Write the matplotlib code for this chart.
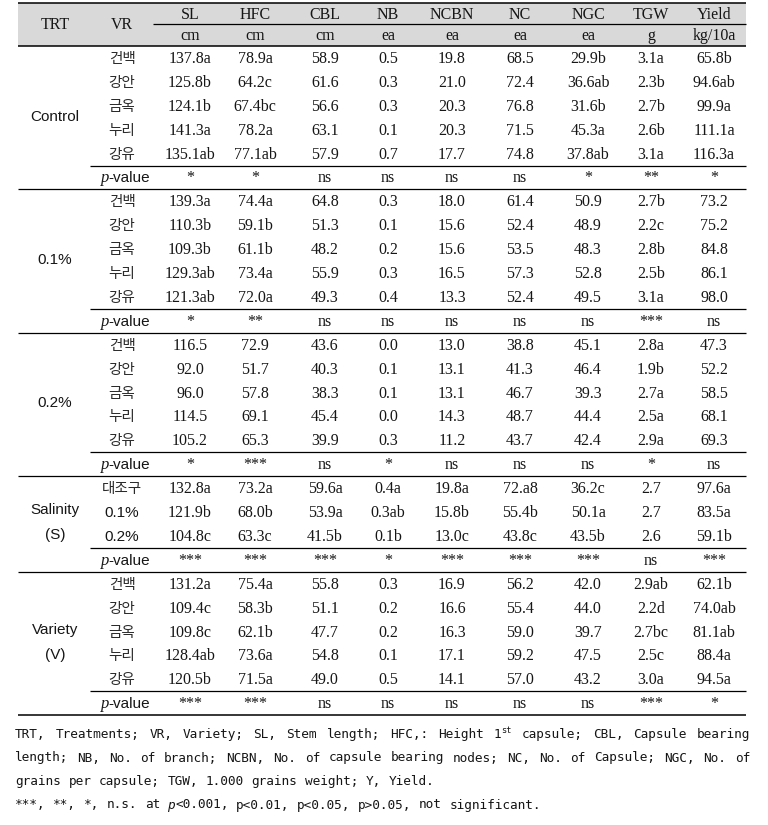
import re

import matplotlib

matplotlib.use("Agg")
import matplotlib.pyplot as plt

# ---------------------- Table data ----------------------

columns = ["SL", "HFC", "CBL", "NB", "NCBN", "NC", "NGC", "TGW", "Yield"]
units = ["cm", "cm", "cm", "ea", "ea", "ea", "ea", "g", "kg/10a"]
varieties = ["건백", "강안", "금옥", "누리", "강유"]
salinity_levels = ["대조구", "0.1%", "0.2%"]

control = [
    ["137.8a", "78.9a", "58.9", "0.5", "19.8", "68.5", "29.9b", "3.1a", "65.8b"],
    ["125.8b", "64.2c", "61.6", "0.3", "21.0", "72.4", "36.6ab", "2.3b", "94.6ab"],
    ["124.1b", "67.4bc", "56.6", "0.3", "20.3", "76.8", "31.6b", "2.7b", "99.9a"],
    ["141.3a", "78.2a", "63.1", "0.1", "20.3", "71.5", "45.3a", "2.6b", "111.1a"],
    ["135.1ab", "77.1ab", "57.9", "0.7", "17.7", "74.8", "37.8ab", "3.1a", "116.3a"],
]
control_p = ["*", "*", "ns", "ns", "ns", "ns", "*", "**", "*"]

salt_01 = [
    ["139.3a", "74.4a", "64.8", "0.3", "18.0", "61.4", "50.9", "2.7b", "73.2"],
    ["110.3b", "59.1b", "51.3", "0.1", "15.6", "52.4", "48.9", "2.2c", "75.2"],
    ["109.3b", "61.1b", "48.2", "0.2", "15.6", "53.5", "48.3", "2.8b", "84.8"],
    ["129.3ab", "73.4a", "55.9", "0.3", "16.5", "57.3", "52.8", "2.5b", "86.1"],
    ["121.3ab", "72.0a", "49.3", "0.4", "13.3", "52.4", "49.5", "3.1a", "98.0"],
]
salt_01_p = ["*", "**", "ns", "ns", "ns", "ns", "ns", "***", "ns"]

salt_02 = [
    ["116.5", "72.9", "43.6", "0.0", "13.0", "38.8", "45.1", "2.8a", "47.3"],
    ["92.0", "51.7", "40.3", "0.1", "13.1", "41.3", "46.4", "1.9b", "52.2"],
    ["96.0", "57.8", "38.3", "0.1", "13.1", "46.7", "39.3", "2.7a", "58.5"],
    ["114.5", "69.1", "45.4", "0.0", "14.3", "48.7", "44.4", "2.5a", "68.1"],
    ["105.2", "65.3", "39.9", "0.3", "11.2", "43.7", "42.4", "2.9a", "69.3"],
]
salt_02_p = ["*", "***", "ns", "*", "ns", "ns", "ns", "*", "ns"]

salinity_mean = [
    ["132.8a", "73.2a", "59.6a", "0.4a", "19.8a", "72.a8", "36.2c", "2.7", "97.6a"],
    ["121.9b", "68.0b", "53.9a", "0.3ab", "15.8b", "55.4b", "50.1a", "2.7", "83.5a"],
    ["104.8c", "63.3c", "41.5b", "0.1b", "13.0c", "43.8c", "43.5b", "2.6", "59.1b"],
]
salinity_p = ["***", "***", "***", "*", "***", "***", "***", "ns", "***"]

variety_mean = [
    ["131.2a", "75.4a", "55.8", "0.3", "16.9", "56.2", "42.0", "2.9ab", "62.1b"],
    ["109.4c", "58.3b", "51.1", "0.2", "16.6", "55.4", "44.0", "2.2d", "74.0ab"],
    ["109.8c", "62.1b", "47.7", "0.2", "16.3", "59.0", "39.7", "2.7bc", "81.1ab"],
    ["128.4ab", "73.6a", "54.8", "0.1", "17.1", "59.2", "47.5", "2.5c", "88.4a"],
    ["120.5b", "71.5a", "49.0", "0.5", "14.1", "57.0", "43.2", "3.0a", "94.5a"],
]
variety_p = ["***", "***", "ns", "ns", "ns", "ns", "ns", "***", "*"]

groups = [
    (["Control"], varieties, control, control_p),
    (["0.1%"], varieties, salt_01, salt_01_p),
    (["0.2%"], varieties, salt_02, salt_02_p),
    (["Salinity", "(S)"], salinity_levels, salinity_mean, salinity_p),
    (["Variety", "(V)"], varieties, variety_mean, variety_p),
]

footnote = [
    "TRT, Treatments; VR, Variety; SL, Stem length; HFC,: Height 1{st} capsule; "
    "CBL, Capsule bearing",
    "length; NB, No. of branch; NCBN, No. of capsule bearing nodes; NC, No. of "
    "Capsule; NGC, No. of",
    "grains per capsule; TGW, 1.000 grains weight; Y, Yield.",
    "***, **, *, n.s. at [p]<0.001, p<0.01, p<0.05, p>0.05, not significant.",
]

# ---------------------- Layout ----------------------

W, H = 768, 825
X_LEFT, X_RIGHT, X_SUB = 18, 746, 90
TOP, HEAD_MID, HEAD_BOT = 3, 24, 46
ROW_H = 23.9
X_TRT, X_VR = 55, 122
COL_X = [190, 255, 325, 388, 452, 520, 588, 651, 714]

SERIF = dict(family="Liberation Serif", fontsize=11.5, color="#161616")
SANS = dict(family="Liberation Sans", fontsize=11, color="#161616")
KOR = dict(family=["Noto Sans CJK KR", "DejaVu Sans"], fontsize=10.5,
           color="#2a2a2a")
MONO = dict(family="DejaVu Sans Mono", fontsize=9.2, color="#151515")

fig = plt.figure(figsize=(W / 100, H / 100), dpi=100)
ax = fig.add_axes([0, 0, 1, 1])
ax.set_xlim(0, W)
ax.set_ylim(H, 0)
ax.axis("off")


def hline(y, x0=X_LEFT, lw=0.9):
    ax.plot([x0, X_RIGHT], [y, y], color="black", lw=lw, solid_capstyle="butt")


def pvalue_label(y):
    ax.text(X_VR - 13, y, "p", ha="right", va="baseline", style="italic",
            family="Liberation Serif", fontsize=12, color="#161616")
    ax.text(X_VR - 14, y, "-value", ha="left", va="baseline", **SANS)


# header
ax.add_patch(plt.Rectangle((X_LEFT, TOP), X_RIGHT - X_LEFT, HEAD_BOT - TOP,
                           facecolor="#d9d9d9", edgecolor="none", zorder=0))
hline(TOP, lw=1.1)
hline(HEAD_MID, x0=153, lw=0.9)
hline(HEAD_BOT, lw=1.1)
ax.text(X_TRT, 29, "TRT", ha="center", va="baseline", **SERIF)
ax.text(X_VR, 29, "VR", ha="center", va="baseline", **SERIF)
for x, name, unit in zip(COL_X, columns, units):
    ax.text(x, 19, name, ha="center", va="baseline", **SERIF)
    ax.text(x, 40, unit, ha="center", va="baseline", **SERIF)

# body
y = HEAD_BOT
for label, names, rows, pvals in groups:
    y0 = y
    for name, row in zip(names, rows):
        base = y + ROW_H / 2 + 5
        if re.match(r"^[0-9]", name):
            ax.text(X_VR, base, name, ha="center", va="baseline", **SANS)
        else:
            ax.text(X_VR, base, name, ha="center", va="baseline", **KOR)
        for x, val in zip(COL_X, row):
            ax.text(x, base, val, ha="center", va="baseline", **SERIF)
        y += ROW_H
    hline(y, x0=X_SUB)
    base = y + ROW_H / 2 + 5
    pvalue_label(base)
    for x, val in zip(COL_X, pvals):
        ax.text(x, base, val, ha="center", va="baseline", **SERIF)
    y += ROW_H
    hline(y, lw=1.1 if label[0] == "Variety" else 0.9)
    mid = (y0 + y) / 2 + 5
    offs = [0] if len(label) == 1 else [-12.5, 12.5]
    for line, off in zip(label, offs):
        ax.text(X_TRT, mid + off - 2, line, ha="center", va="baseline", **SANS)

# ---------------------- Footnote (justified) ----------------------

renderer = fig.canvas.get_renderer()


def parse_word(word):
    segs = []
    for part in re.split(r"(\{[^}]*\}|\[[^\]]*\])", word):
        if not part:
            continue
        if part.startswith("{"):
            segs.append((part[1:-1], "sup"))
        elif part.startswith("["):
            segs.append((part[1:-1], "it"))
        else:
            segs.append((part, "n"))
    return segs


def draw_note_line(text, yb, justify):
    words = []
    for w in text.split(" "):
        arts = []
        for s, kind in parse_word(w):
            if kind == "sup":
                t = ax.text(0, yb - 5, s, va="baseline", family=MONO["family"],
                            fontsize=6.2, color=MONO["color"])
            elif kind == "it":
                t = ax.text(0, yb, s, va="baseline", style="italic", **MONO)
            else:
                t = ax.text(0, yb, s, va="baseline", **MONO)
            arts.append(t)
        words.append(arts)
    widths = [[t.get_window_extent(renderer).width for t in arts] for arts in words]
    total = sum(sum(w) for w in widths)
    space = ax.text(0, 0, "a", **MONO)
    sp = space.get_window_extent(renderer).width
    space.remove()
    gap = (X_RIGHT + 4 - 15 - total) / (len(words) - 1) if justify else sp
    x = 15
    for arts, ws in zip(words, widths):
        for t, wd in zip(arts, ws):
            t.set_x(x)
            x += wd
        x += gap


for i, line in enumerate(footnote):
    draw_note_line(line, 738 + i * 23.5, justify=i < 2)

fig.savefig("out.png", dpi=100)
